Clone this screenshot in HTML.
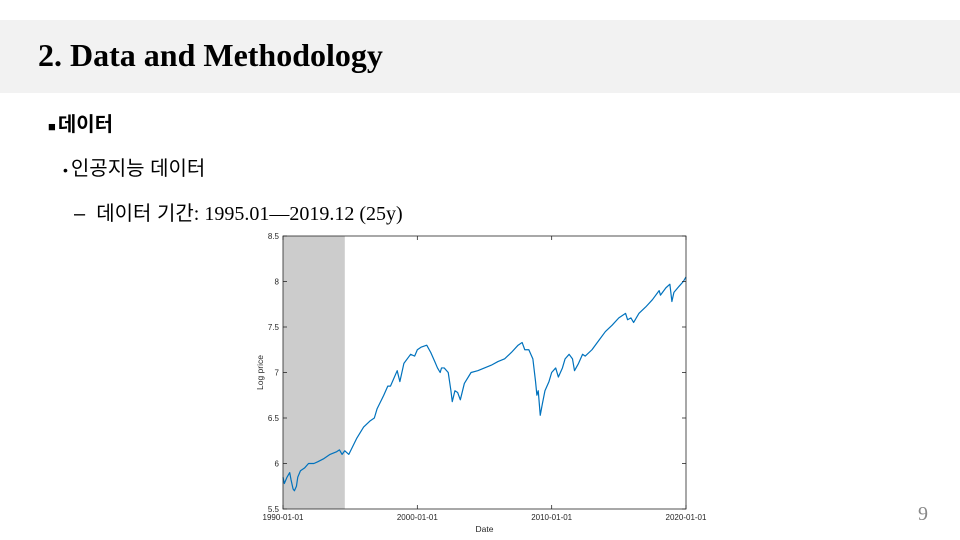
<!DOCTYPE html>
<html><head><meta charset="utf-8">
<style>
body{margin:0;width:960px;height:540px;background:#fff;position:relative;overflow:hidden;font-family:"Liberation Sans","Noto Sans CJK KR",sans-serif}
.hdr{position:absolute;left:0;top:20px;width:960px;height:73px;background:#f2f2f2}
.title{position:absolute;left:38px;top:37px;font:bold 32px "Liberation Serif",serif;color:#000;white-space:nowrap}
.t{position:absolute;white-space:nowrap;color:#000}
</style></head><body>
<div class="hdr"></div>
<div class="title">2. Data and Methodology</div>
<div class="t" style="left:48px;top:108px;font-size:20px;font-weight:bold"><span style="font-size:13px;margin-right:2px">■</span>데이터</div>
<div class="t" style="left:63px;top:152px;font-size:20px"><span style="font-size:14px;margin-right:3px">•</span>인공지능 데이터</div>
<div class="t" style="left:74px;top:197px;font-size:20px">–&nbsp; 데이터 기간<span style="font-family:'Liberation Serif',serif">: 1995.01—2019.12 (25y)</span></div>
<div class="t" style="left:918px;top:503px;font:20px 'Liberation Serif',serif;color:#888">9</div>
<svg id="chart" width="960" height="540" style="position:absolute;left:0;top:0"></svg>
<script>
const years=[1990.0,1990.1,1990.3,1990.5,1990.6,1990.75,1990.85,1991.0,1991.1,1991.3,1991.6,1991.9,1992.3,1992.6,1993.0,1993.5,1994.0,1994.2,1994.4,1994.6,1994.9,1995.5,1996.0,1996.5,1996.8,1997.0,1997.5,1997.8,1998.0,1998.5,1998.7,1999.0,1999.5,1999.8,2000.0,2000.3,2000.7,2001.0,2001.3,2001.5,2001.7,2001.8,2002.0,2002.3,2002.5,2002.6,2002.8,2003.0,2003.2,2003.5,2004.0,2004.5,2005.0,2005.5,2006.0,2006.5,2007.0,2007.5,2007.8,2008.0,2008.3,2008.6,2008.8,2008.9,2009.0,2009.15,2009.3,2009.5,2009.8,2010.0,2010.3,2010.5,2010.8,2011.0,2011.3,2011.55,2011.7,2012.0,2012.3,2012.5,2013.0,2013.5,2014.0,2014.5,2015.0,2015.5,2015.65,2015.9,2016.1,2016.5,2017.0,2017.5,2018.0,2018.1,2018.5,2018.8,2018.95,2019.1,2019.5,2019.8,2020.0];
const logPrice=[5.85,5.78,5.85,5.9,5.82,5.72,5.7,5.75,5.85,5.92,5.95,6.0,6.0,6.02,6.05,6.1,6.13,6.15,6.1,6.14,6.1,6.28,6.4,6.47,6.5,6.6,6.75,6.85,6.85,7.02,6.9,7.1,7.2,7.18,7.25,7.28,7.3,7.22,7.12,7.05,7.0,7.05,7.05,7.0,6.8,6.68,6.8,6.78,6.7,6.88,7.0,7.02,7.05,7.08,7.12,7.15,7.22,7.3,7.33,7.25,7.25,7.15,6.9,6.75,6.8,6.53,6.65,6.8,6.9,7.0,7.05,6.95,7.05,7.15,7.2,7.15,7.02,7.1,7.2,7.18,7.25,7.35,7.45,7.52,7.6,7.65,7.58,7.6,7.55,7.65,7.72,7.8,7.9,7.85,7.93,7.97,7.78,7.88,7.95,8.0,8.05];
const yTicks=[5.5,6,6.5,7,7.5,8,8.5];
const xTicks=[1990,2000,2010,2020];
const xTickLabels=["1990-01-01","2000-01-01","2010-01-01","2020-01-01"];
const shadeRange=[1990,1994.6];
const L=283,R=686,T=236,B=509;
const xs=v=>L+(v-1990)/30*(R-L);
const ys=v=>B-(v-5.5)/3*(B-T);
const svg=document.getElementById('chart');
const NS='http://www.w3.org/2000/svg';
function mk(tag,attrs,parent){const e=document.createElementNS(NS,tag);for(const k in attrs)e.setAttribute(k,attrs[k]);(parent||svg).appendChild(e);return e;}
const sh=mk('rect',{x:xs(shadeRange[0]),y:T,width:xs(shadeRange[1])-xs(shadeRange[0]),height:B-T,fill:'#cccccc'});


const line=mk('polyline',{points:years.map((y,i)=>xs(y)+','+ys(logPrice[i])).join(' '),fill:'none',stroke:'#0072bd','stroke-width':1.2,'stroke-linejoin':'round'});


const box=mk('rect',{x:L,y:T,width:R-L,height:B-T,fill:'none',stroke:'#262626','stroke-width':0.8});


yTicks.forEach(v=>{
  mk('line',{x1:L,x2:L+4,y1:ys(v),y2:ys(v),stroke:'#262626','stroke-width':0.8});
  mk('line',{x1:R-4,x2:R,y1:ys(v),y2:ys(v),stroke:'#262626','stroke-width':0.8});
  const t=mk('text',{x:L-4,y:ys(v)+3,'font-size':8,'text-anchor':'end',fill:'#262626','font-family':'Liberation Sans, sans-serif'});
  t.textContent=v;
  
  
});
xTicks.forEach((v,i)=>{
  mk('line',{x1:xs(v),x2:xs(v),y1:B,y2:B-4,stroke:'#262626','stroke-width':0.8});
  mk('line',{x1:xs(v),x2:xs(v),y1:T,y2:T+4,stroke:'#262626','stroke-width':0.8});
  const t=mk('text',{x:xs(v),y:B+11,'font-size':8,'text-anchor':'middle',fill:'#262626','font-family':'Liberation Sans, sans-serif'});
  t.textContent=xTickLabels[i];
  
  
});
const xl=mk('text',{x:(L+R)/2,y:B+23,'font-size':8.5,'text-anchor':'middle',fill:'#262626','font-family':'Liberation Sans, sans-serif'});
xl.textContent='Date';


const yl=mk('text',{x:0,y:0,'font-size':8.5,'text-anchor':'middle',fill:'#262626','font-family':'Liberation Sans, sans-serif',transform:'translate(263,'+((T+B)/2)+') rotate(-90)'});
yl.textContent='Log price';


</script>
</body></html>
